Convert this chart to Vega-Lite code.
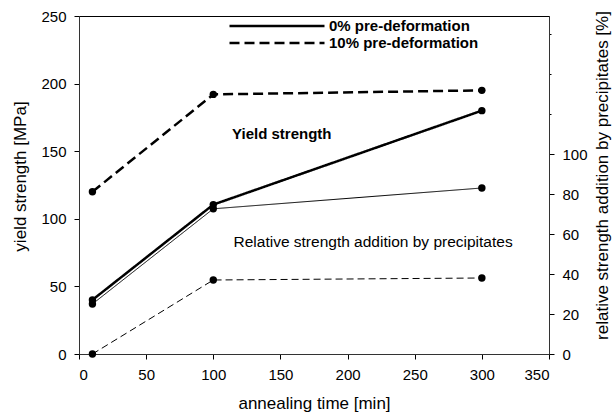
{
  "$schema": "https://vega.github.io/schema/vega-lite/v6.json",
  "width": 470,
  "height": 338,
  "autosize": {"type": "none"},
  "padding": {"left": 79, "top": 16, "right": 64, "bottom": 60},
  "background": "white",
  "config": {
    "font": "Liberation Sans",
    "view": {"stroke": "#000", "strokeWidth": 1},
    "axis": {
      "grid": false,
      "domainColor": "#333",
      "tickColor": "#000",
      "labelColor": "#000",
      "titleColor": "#000",
      "labelFont": "Liberation Sans",
      "titleFont": "Liberation Sans",
      "labelFontSize": 15,
      "titleFontSize": 17,
      "titleFontWeight": "normal",
      "tickSize": 5,
      "labelPadding": 8
    }
  },
  "data": {
    "values": [
      {"time": 10, "deformation": "0% pre-deformation", "yield": 40, "relative": 25},
      {"time": 100, "deformation": "0% pre-deformation", "yield": 110.5, "relative": 72.6},
      {"time": 300, "deformation": "0% pre-deformation", "yield": 180, "relative": 83},
      {"time": 10, "deformation": "10% pre-deformation", "yield": 120, "relative": 0},
      {"time": 100, "deformation": "10% pre-deformation", "yield": 192, "relative": 37},
      {"time": 300, "deformation": "10% pre-deformation", "yield": 195, "relative": 38}
    ]
  },
  "layer": [
    {
      "layer": [
        {
          "mark": {"type": "line", "strokeWidth": 2.5, "color": "#000"},
          "encoding": {
            "x": {
              "field": "time", "type": "quantitative",
              "scale": {"domain": [0, 350], "nice": false},
              "axis": {
                "values": [0, 50, 100, 150, 200, 250, 300, 350],
                "title": "annealing time [min]",
                "titleBaseline": "middle",
                "titleY": 49
              }
            },
            "y": {
              "field": "yield", "type": "quantitative",
              "scale": {"domain": [0, 250], "nice": false},
              "axis": {
                "values": [0, 50, 100, 150, 200, 250],
                "title": "yield strength [MPa]",
                "titleBaseline": "middle",
                "titleX": -59,
                "titleY": 160
              }
            },
            "strokeDash": {
              "field": "deformation", "type": "nominal",
              "scale": {"domain": ["0% pre-deformation", "10% pre-deformation"], "range": [[1, 0], [10, 5]]},
              "legend": {
                "orient": "none",
                "legendX": 149,
                "legendY": 2.5,
                "title": null,
                "symbolType": "stroke",
                "symbolSize": 9025,
                "symbolStrokeWidth": 2.5,
                "symbolStrokeColor": "#000",
                "labelFontSize": 15,
                "labelFontWeight": "bold",
                "labelColor": "#000",
                "labelOffset": 3,
                "padding": 0,
                "rowPadding": 1,
                "clipHeight": 15
              }
            }
          }
        },
        {
          "mark": {"type": "point", "filled": true, "size": 55, "color": "#000", "opacity": 1},
          "encoding": {
            "x": {"field": "time", "type": "quantitative"},
            "y": {"field": "yield", "type": "quantitative"}
          }
        },
        {
          "data": {"values": [{}]},
          "mark": {"type": "text", "text": "Yield strength", "fontWeight": "bold", "fontSize": 15, "baseline": "middle", "align": "center", "color": "#000"},
          "encoding": {
            "x": {"datum": 151, "type": "quantitative"},
            "y": {"datum": 163, "type": "quantitative"}
          }
        },
        {
          "data": {"values": [{}]},
          "mark": {"type": "text", "text": "Relative strength addition by precipitates", "fontSize": 15.5, "baseline": "middle", "align": "center", "color": "#000"},
          "encoding": {
            "x": {"datum": 219, "type": "quantitative"},
            "y": {"datum": 82.5, "type": "quantitative"}
          }
        }
      ]
    },
    {
      "layer": [
        {
          "mark": {"type": "line", "strokeWidth": 1, "color": "#000"},
          "encoding": {
            "x": {"field": "time", "type": "quantitative"},
            "y": {
              "field": "relative", "type": "quantitative",
              "scale": {"domain": [0, 169], "nice": false},
              "axis": {
                "orient": "right",
                "values": [0, 20, 40, 60, 80, 100, 120, 140, 160],
                "labelExpr": "datum.value <= 100 ? datum.label : ''",
                "tickSize": {"condition": {"test": "datum.value <= 100", "value": 5}, "value": 2},
                "title": "relative strength addition by precipitates [%]",
                "titleAngle": 270,
                "titleBaseline": "middle",
                "titleX": 53,
                "titleY": 159
              }
            },
            "strokeDash": {
              "field": "deformation", "type": "nominal",
              "scale": {"domain": ["0% pre-deformation", "10% pre-deformation"], "range": [[1, 0], [7, 4]]},
              "legend": null
            }
          }
        },
        {
          "mark": {"type": "point", "filled": true, "size": 55, "color": "#000", "opacity": 1},
          "encoding": {
            "x": {"field": "time", "type": "quantitative"},
            "y": {"field": "relative", "type": "quantitative"}
          }
        }
      ]
    }
  ],
  "resolve": {"scale": {"y": "independent", "strokeDash": "independent"}}
}
